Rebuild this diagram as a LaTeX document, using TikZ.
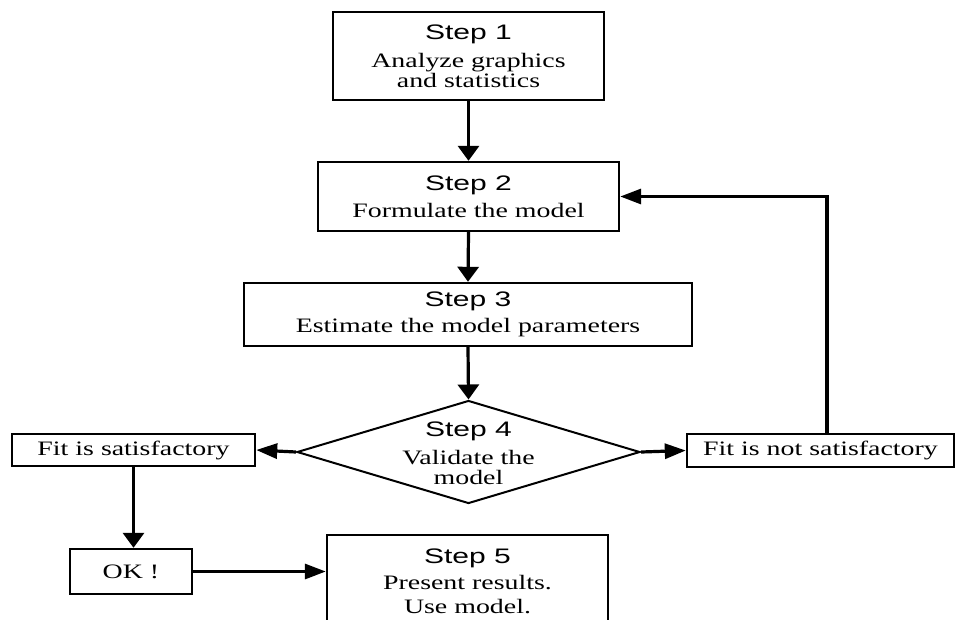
\documentclass[tikz,border=0pt]{standalone}
\usepackage{fontspec}
\setmainfont[FakeStretch=1.36]{Liberation Serif}
\newfontfamily\stepfont[FakeStretch=1.43]{Liberation Sans}
\usetikzlibrary{shapes.geometric,arrows.meta}
\newcommand{\mystep}[1]{{\stepfont\fontsize{21}{21}\selectfont Step #1}}
\begin{document}
\begin{tikzpicture}[x=1pt,y=-1pt,
  box/.style={draw,line width=2.4pt,inner sep=0pt,align=center,font=\fontsize{20.5}{18}\selectfont},
  vflow/.style={line width=3.2pt,-{Triangle[length=15pt,width=21pt]}},
  hflow/.style={line width=3.2pt,-{Triangle[length=21pt,width=15pt]}}]
\path[use as bounding box] (0,0) rectangle (957,619);
\clip (0,0) rectangle (957,619);
\node[box,minimum width=271pt,minimum height=88pt] (s1) at (468.5,56) {\mystep{1}\\[9pt]Analyze graphics\\and statistics};
\node[box,minimum width=301pt,minimum height=69pt] (s2) at (468.5,196.5) {\mystep{2}\\[7pt]Formulate the model};
\node[box,minimum width=448pt,minimum height=63pt] (s3) at (468,314.5) {\mystep{3}\\[7pt]Estimate the model parameters};
\node[draw,diamond,line width=2pt,inner sep=0pt,minimum width=343pt,minimum height=103pt] (s4) at (468.5,452) {};
\node[align=center,inner sep=0pt,font=\fontsize{20.5}{18}\selectfont] (s4t) at (468.5,453) {\mystep{4}\\[8pt]Validate the\\[2pt]model};
\node[box,minimum width=243pt,minimum height=32pt] (fs) at (133.5,450) {Fit is satisfactory};
\node[box,minimum width=267pt,minimum height=33pt] (fn) at (820.5,450.5) {Fit is not satisfactory};
\node[box,minimum width=122pt,minimum height=45pt] (ok) at (131,571.5) {OK !};
\node[box,anchor=north,minimum width=281pt,minimum height=92pt] (s5) at (467.5,534) {\mystep{5}\\[6pt]Present results.\\[6pt]Use model.};
\coordinate (c1) at (827,198);
\draw[vflow] (s1.south) -- (s2.north);
\draw[vflow] (s2.south) -- (s3.north);
\draw[vflow] (s3.south) -- (s4.north);
\draw[hflow] (s4.west) -- (fs.east);
\draw[hflow] (s4.east) -- (fn.west);
\draw[hflow] (c1 |- fn.north) |- (s2.east);
\draw[vflow] (fs.south) -- (fs.south |- ok.north);
\draw[hflow] (ok.east) -- (ok.east -| s5.west);
\end{tikzpicture}
\end{document}
